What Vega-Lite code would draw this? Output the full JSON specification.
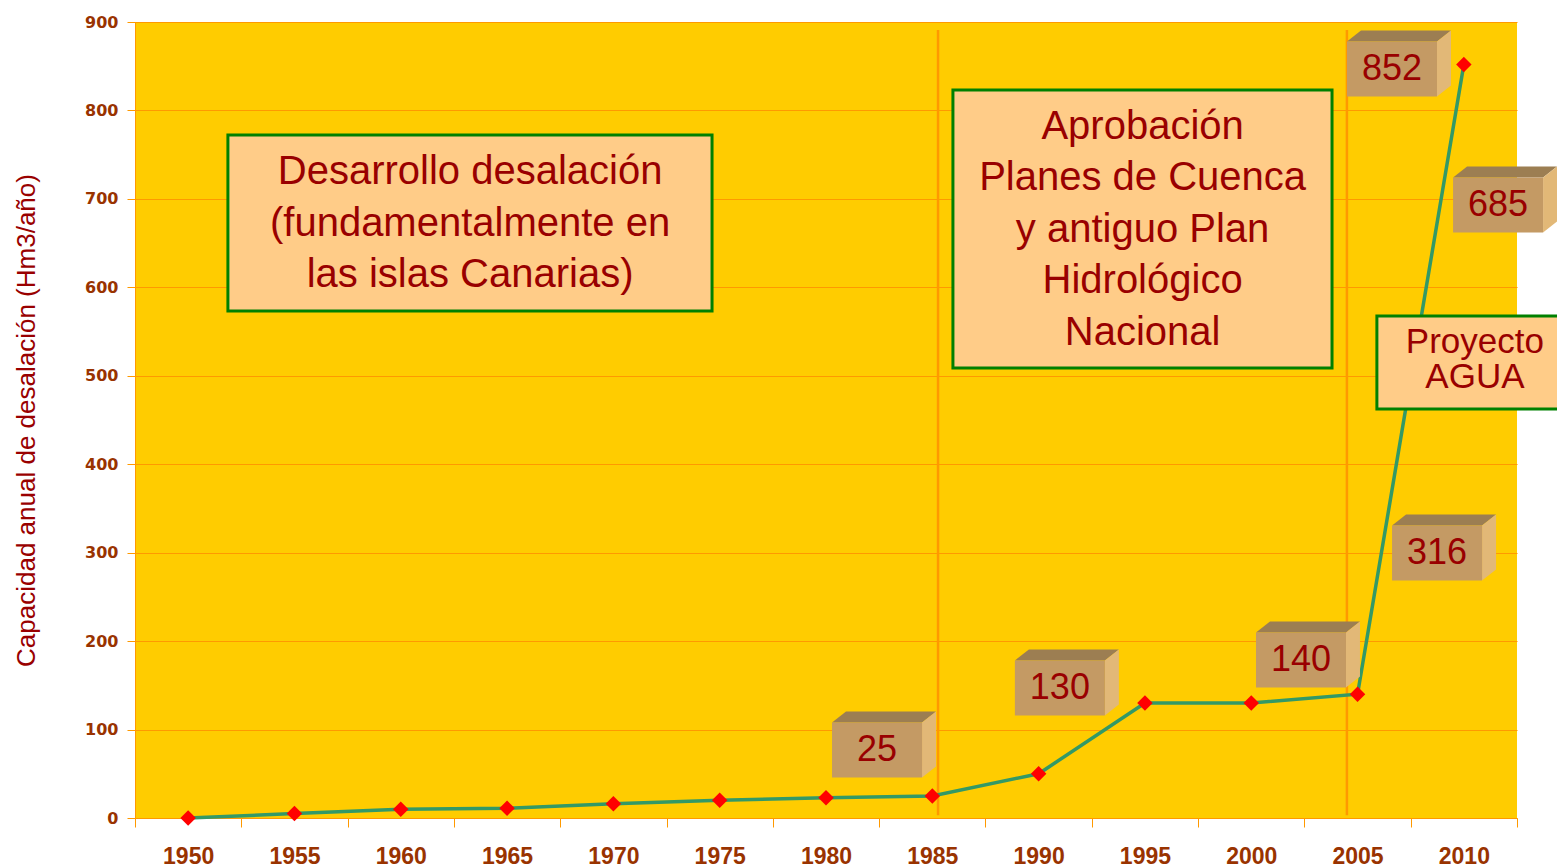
{
  "$schema": "https://vega.github.io/schema/vega-lite/v6.json",
  "width": 1382,
  "height": 796,
  "autosize": {"type": "none"},
  "padding": {"left": 135, "top": 22, "right": 40, "bottom": 49},
  "background": "white",
  "config": {"view": {"fill": "#FFCC00", "stroke": null}},
  "datasets": {
    "series": [
      {"year": 1950, "capacity": 0},
      {"year": 1955, "capacity": 5},
      {"year": 1960, "capacity": 10},
      {"year": 1965, "capacity": 11},
      {"year": 1970, "capacity": 16},
      {"year": 1975, "capacity": 20},
      {"year": 1980, "capacity": 23},
      {"year": 1985, "capacity": 25},
      {"year": 1990, "capacity": 50},
      {"year": 1995, "capacity": 130},
      {"year": 2000, "capacity": 130},
      {"year": 2005, "capacity": 140},
      {"year": 2010, "capacity": 852}
    ],
    "periods": [
      {"year": 1985.27},
      {"year": 2004.5}
    ],
    "boxes": [
      {"label": "25", "year": 1982.4, "value": 76.9},
      {"label": "130", "year": 1991.0, "value": 147.0},
      {"label": "140", "year": 2002.34, "value": 178.6},
      {"label": "316", "year": 2008.74, "value": 299.6},
      {"label": "685", "year": 2011.61, "value": 693.1},
      {"label": "852", "year": 2006.62, "value": 846.9}
    ],
    "notes": [
      {"id": "a", "text": ["Desarrollo desalación", "(fundamentalmente en", "las islas Canarias)"], "x0": 1951.87, "x1": 1974.64, "y0": 573.2, "y1": 772.2, "xc": 1963.26, "yc": 730.4},
      {"id": "b", "text": ["Aprobación", "Planes de Cuenca", "y antiguo Plan", "Hidrológico", "Nacional"], "x0": 1985.97, "x1": 2003.8, "y0": 508.8, "y1": 823.1, "xc": 1994.89, "yc": 781.3},
      {"id": "c", "text": ["Proyecto", "AGUA"], "x0": 2005.91, "x1": 2014.6, "y0": 462.4, "y1": 567.6, "xc": 2010.52, "yc": 538.5}
    ]
  },
  "layer": [
    {
      "data": {"name": "periods"},
      "mark": {"type": "rule", "color": "#FF9900", "strokeWidth": 2.5},
      "encoding": {
        "x": {"field": "year", "type": "quantitative"},
        "y": {"datum": 891, "type": "quantitative"},
        "y2": {"datum": 3}
      }
    },
    {
      "data": {"name": "series"},
      "mark": {"type": "line", "color": "#339966", "strokeWidth": 3.5},
      "encoding": {
        "x": {
          "field": "year", "type": "quantitative",
          "scale": {"domain": [1947.5, 2012.5], "nice": false, "zero": false},
          "axis": {
            "title": null,
            "values": [1947.5, 1952.5, 1957.5, 1962.5, 1967.5, 1972.5, 1977.5, 1982.5, 1987.5, 1992.5, 1997.5, 2002.5, 2007.5, 2012.5],
            "labelExpr": "datum.value < 2010 ? '' + (datum.value + 2.5) : ''",
            "labelOffset": 53.15,
            "grid": false,
            "domainColor": "#FF9900",
            "tickColor": "#FF9900",
            "tickSize": 9,
            "labelPadding": 18,
            "labelFont": "Liberation Sans",
            "labelFontWeight": "bold",
            "labelFontSize": 23,
            "labelColor": "#993300",
            "labelFlush": false,
            "labelOverlap": false
          }
        },
        "y": {
          "field": "capacity", "type": "quantitative",
          "scale": {"domain": [0, 900], "nice": false},
          "axis": {
            "title": "Capacidad anual de desalación (Hm3/año)",
            "titleFont": "Liberation Sans",
            "titleFontSize": 26,
            "titleFontWeight": "normal",
            "titleColor": "#990000",
            "titlePadding": 45,
            "values": [0, 100, 200, 300, 400, 500, 600, 700, 800, 900],
            "grid": true,
            "gridColor": "#FF9900",
            "gridWidth": 1,
            "domainColor": "#FF9900",
            "tickColor": "#FF9900",
            "tickSize": 8,
            "labelPadding": 9,
            "labelFont": "DejaVu Sans",
            "labelFontWeight": "bold",
            "labelFontSize": 16,
            "labelColor": "#993300"
          }
        }
      }
    },
    {
      "data": {"name": "series"},
      "mark": {"type": "point", "shape": "diamond", "filled": true, "color": "#FF0000", "size": 240, "opacity": 1},
      "encoding": {
        "x": {"field": "year", "type": "quantitative"},
        "y": {"field": "capacity", "type": "quantitative"}
      }
    },
    {
      "data": {"name": "notes"},
      "mark": {"type": "rect", "fill": "#FFCC88", "stroke": "#008000", "strokeWidth": 3},
      "encoding": {
        "x": {"field": "x0", "type": "quantitative"},
        "x2": {"field": "x1"},
        "y": {"field": "y0", "type": "quantitative"},
        "y2": {"field": "y1"}
      }
    },
    {
      "data": {"name": "notes"},
      "transform": [{"filter": "datum.id !== 'c'"}],
      "mark": {"type": "text", "font": "Liberation Sans", "fontSize": 40, "lineHeight": 51.5, "color": "#990000", "align": "center", "baseline": "middle"},
      "encoding": {
        "x": {"field": "xc", "type": "quantitative"},
        "y": {"field": "yc", "type": "quantitative"},
        "text": {"field": "text"}
      }
    },
    {
      "data": {"name": "notes"},
      "transform": [{"filter": "datum.id === 'c'"}],
      "mark": {"type": "text", "font": "Liberation Sans", "fontSize": 35, "lineHeight": 35, "color": "#990000", "align": "center", "baseline": "middle"},
      "encoding": {
        "x": {"field": "xc", "type": "quantitative"},
        "y": {"field": "yc", "type": "quantitative"},
        "text": {"field": "text"}
      }
    },
    {
      "data": {"name": "boxes"},
      "mark": {"type": "point", "filled": true, "opacity": 1, "strokeWidth": 0, "size": 10000, "color": "#9C7E52", "shape": "M-0.9,-0.55 L0.9,-0.55 L1.18,-0.77 L-0.62,-0.77 Z"},
      "encoding": {
        "x": {"field": "year", "type": "quantitative"},
        "y": {"field": "value", "type": "quantitative"}
      }
    },
    {
      "data": {"name": "boxes"},
      "mark": {"type": "point", "filled": true, "opacity": 1, "strokeWidth": 0, "size": 10000, "color": "#E2B877", "shape": "M0.9,-0.55 L1.18,-0.77 L1.18,0.33 L0.9,0.55 Z"},
      "encoding": {
        "x": {"field": "year", "type": "quantitative"},
        "y": {"field": "value", "type": "quantitative"}
      }
    },
    {
      "data": {"name": "boxes"},
      "mark": {"type": "point", "filled": true, "opacity": 1, "strokeWidth": 0, "size": 10000, "color": "#C49A64", "shape": "M-0.9,-0.55 L0.9,-0.55 L0.9,0.55 L-0.9,0.55 Z"},
      "encoding": {
        "x": {"field": "year", "type": "quantitative"},
        "y": {"field": "value", "type": "quantitative"}
      }
    },
    {
      "data": {"name": "boxes"},
      "mark": {"type": "text", "font": "Liberation Sans", "fontSize": 36, "color": "#990000", "align": "center", "baseline": "middle"},
      "encoding": {
        "x": {"field": "year", "type": "quantitative"},
        "y": {"field": "value", "type": "quantitative"},
        "text": {"field": "label"}
      }
    }
  ]
}
